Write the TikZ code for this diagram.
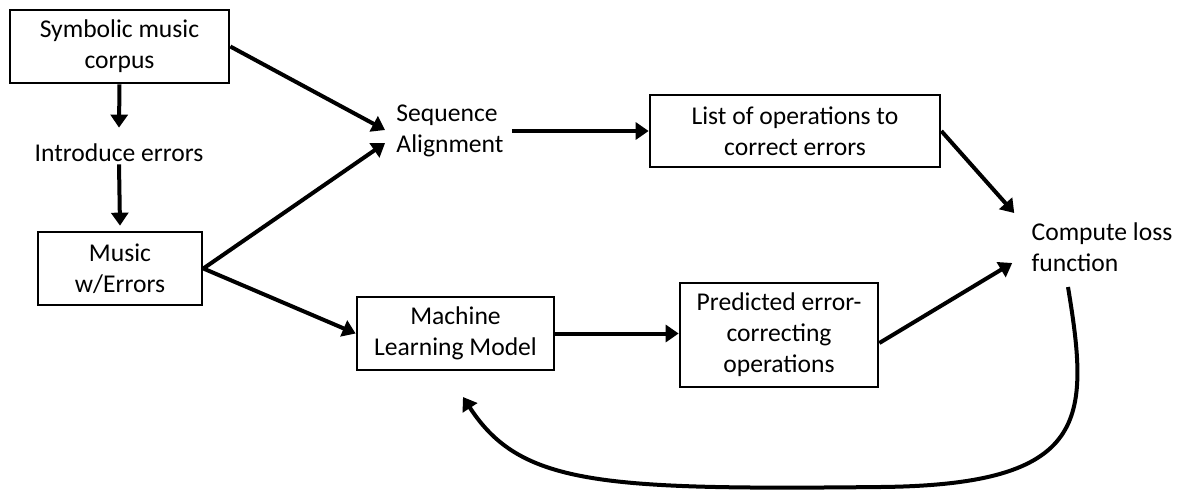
\documentclass[tikz,border=0pt]{standalone}
\usepackage{fontspec}
\setmainfont{Carlito}
\usetikzlibrary{arrows.meta,calc}
\begin{document}
\begin{tikzpicture}[x=0.5pt,y=-0.5pt,
  font=\fontsize{12.8}{15.5}\selectfont,
  box/.style={draw,line width=1.35pt,align=center,inner sep=0pt},
  txt/.style={align=left,inner sep=4pt},
  arr/.style={line width=2pt,-{Triangle[length=6.5pt,width=8.5pt]}}]
\useasboundingbox (0,0) rectangle (1180,500);

\node[box,minimum width=109.5pt,minimum height=36.5pt](corpus) at (119.5,46.5) {Symbolic music\\corpus};
\node[txt](intro) at (119,153) {Introduce errors};
\node[box,minimum width=82pt,minimum height=36.5pt](music) at (120,268.5) {Music\\w/Errors};
\node[txt](seq) at (450,131) {Sequence\\Alignment};
\node[box,minimum width=145pt,minimum height=36pt](list) at (795,131) {List of operations to\\correct errors};
\node[box,minimum width=98.5pt,minimum height=36.5pt](ml) at (455.5,333.5) {Machine\\Learning Model};
\node[box,minimum width=99pt,minimum height=52pt](pred) at (779,335) {Predicted error-\\correcting\\operations};
\node[txt](compute) at (1102,247) {Compute loss\\function};
\coordinate (loopout) at (1068,287);
\coordinate (loopin) at (463,397);

\draw[arr] (corpus.south) -- ($(intro.north)+(0,-8)$);
\draw[arr] ($(intro.south)+(0,-6)$) -- ($(music.north)+(0,-5)$);
\draw[arr] (corpus.east) -- ($(seq.west)+(-3,-1)$);
\draw[arr] (music.east) -- ($(seq.west)+(-3,12)$);
\draw[arr] (music.east) -- (ml.west);
\draw[arr] (seq.east) -- (list.west);
\draw[arr] (ml.east) -- (ml.east -| pred.west);
\draw[arr] (list.east) -- ($(compute.west)+(-9,-34)$);
\draw[arr] ($(pred.east)+(0,8)$) -- ($(compute.west)+(-11,16)$);
\draw[arr] (loopout) .. controls (1090,420) and (1090,485) .. (880,487)
  .. controls (600,490) and (520,485) .. (loopin);
\end{tikzpicture}
\end{document}
